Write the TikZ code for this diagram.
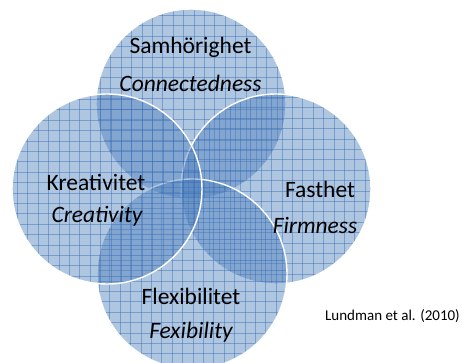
\documentclass[tikz,border=0pt]{standalone}
\usepackage{fontspec}
\setmainfont{Carlito}
\definecolor{vennblue}{RGB}{79,129,189}
\definecolor{gridblue}{RGB}{55,105,180}
\tikzset{
  vennfill/.style={fill=vennblue, fill opacity=0.45},
  gridline/.style={draw=gridblue, line width=0.9pt, opacity=0.45},
  rim/.style={draw=white, line width=1.4pt},
  bigtext/.style={font=\fontsize{23.5}{28}\selectfont, text=black, inner sep=0pt},
  bigital/.style={bigtext, font=\fontsize{23.5}{28}\selectfont\itshape},
  cite/.style={font=\fontsize{15}{18}\selectfont, text=black, inner sep=0pt}
}
\newcommand{\venncircle}[4]{%
  \begin{scope}
    \clip (#1,#2) circle[radius=95pt];
    \fill[vennfill] (#1,#2) circle[radius=95pt];
    \foreach \k in {-10,...,10} {
      \draw[gridline] ({#1+\k*10.4+#3},{#2-100}) -- ({#1+\k*10.4+#3},{#2+100});
      \draw[gridline] ({#1-100},{#2+\k*10.4+#4}) -- ({#1+100},{#2+\k*10.4+#4});
    }
  \end{scope}
  \draw[rim] (#1,#2) circle[radius=95pt];
}
\begin{document}
\begin{tikzpicture}[x=1pt,y=-1pt]
\useasboundingbox (0,0) rectangle (463,363);
\clip (0,0) rectangle (463,363);
\fill[white] (0,0) rectangle (463,363);
% circles: top, right, bottom, left
\venncircle{191}{104}{3}{5}
\venncircle{276}{189}{6}{2}
\venncircle{192}{274}{1}{7}
\venncircle{107}{189}{4}{4}
% labels
\node[bigtext] (samh) at (190.5,47) {Samhörighet};
\node[bigital] (conn) at (190.5,83) {Connectedness};
\node[bigtext] (krea) at (96,182) {Kreativitet};
\node[bigital] (crea) at (97,216) {Creativity};
\node[bigtext] (fast) at (320,189) {Fasthet};
\node[bigital] (firm) at (315,226) {Firmness};
\node[bigtext] (flex) at (191,296) {Flexibilitet};
\node[bigital] (fexi) at (191,332) {Fexibility};
\node[cite] (lund) at (392.5,316) {Lundman et al. (2010)};
\end{tikzpicture}
\end{document}
